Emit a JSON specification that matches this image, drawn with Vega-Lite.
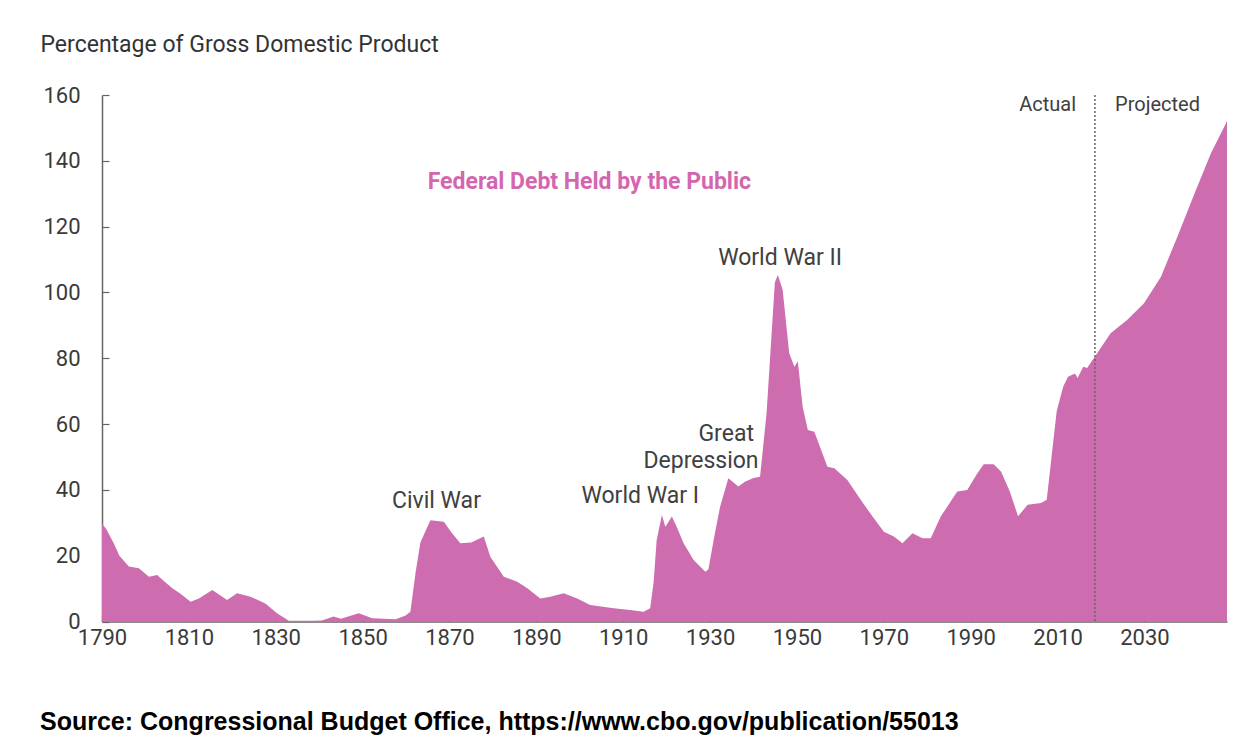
{
  "$schema": "https://vega.github.io/schema/vega-lite/v6.json",
  "autosize": {"type": "none"},
  "width": 1125,
  "height": 526.5,
  "padding": {"left": 102, "top": 95, "right": 17, "bottom": 132.5},
  "background": "white",
  "config": {"view": {"stroke": null}, "font": "Roboto"},
  "title": {
    "text": "Source: Congressional Budget Office, https://www.cbo.gov/publication/55013",
    "orient": "bottom",
    "anchor": "start",
    "frame": "group",
    "dx": -62,
    "offset": 61,
    "font": "Liberation Sans",
    "fontSize": 25,
    "fontWeight": "bold",
    "color": "#000000"
  },
  "datasets": {
    "debt": [
      {"year": 1790, "value": 29.8}, {"year": 1791, "value": 28}, {"year": 1792.7, "value": 23.8},
      {"year": 1794, "value": 20}, {"year": 1796.2, "value": 16.7}, {"year": 1798.5, "value": 16.2},
      {"year": 1800.8, "value": 13.6}, {"year": 1802.7, "value": 14.1}, {"year": 1804.5, "value": 12},
      {"year": 1806.2, "value": 10.1}, {"year": 1808, "value": 8.5}, {"year": 1810.4, "value": 6},
      {"year": 1812.3, "value": 7}, {"year": 1815.4, "value": 9.6}, {"year": 1818.8, "value": 6.5},
      {"year": 1821.1, "value": 8.6}, {"year": 1824.2, "value": 7.5}, {"year": 1827.6, "value": 5.5},
      {"year": 1830.3, "value": 2.5}, {"year": 1833, "value": 0.2}, {"year": 1838.3, "value": 0.2},
      {"year": 1840.6, "value": 0.3}, {"year": 1843.3, "value": 1.5}, {"year": 1845, "value": 0.8},
      {"year": 1849.1, "value": 2.5}, {"year": 1852.2, "value": 1}, {"year": 1857.6, "value": 0.7},
      {"year": 1859.9, "value": 1.8}, {"year": 1861, "value": 3}, {"year": 1862.2, "value": 15},
      {"year": 1863.3, "value": 24}, {"year": 1865.6, "value": 30.8}, {"year": 1868.7, "value": 30.3},
      {"year": 1870.5, "value": 27}, {"year": 1872.5, "value": 23.8}, {"year": 1875, "value": 24},
      {"year": 1877.9, "value": 25.8}, {"year": 1879.4, "value": 19.7}, {"year": 1882.5, "value": 13.6},
      {"year": 1885.6, "value": 12.1}, {"year": 1888, "value": 10}, {"year": 1890.9, "value": 7},
      {"year": 1893.2, "value": 7.5}, {"year": 1896.3, "value": 8.6}, {"year": 1899.4, "value": 7},
      {"year": 1902.4, "value": 5}, {"year": 1907.8, "value": 4}, {"year": 1911.6, "value": 3.5},
      {"year": 1914.7, "value": 3}, {"year": 1916.2, "value": 4}, {"year": 1917, "value": 12},
      {"year": 1917.7, "value": 24.8}, {"year": 1918.9, "value": 32.4}, {"year": 1919.7, "value": 28.8},
      {"year": 1921.2, "value": 31.9}, {"year": 1922.3, "value": 28.8}, {"year": 1923.9, "value": 23.8},
      {"year": 1926.2, "value": 18.7}, {"year": 1928.9, "value": 15.1}, {"year": 1929.6, "value": 15.8},
      {"year": 1931.1, "value": 26.8}, {"year": 1932.3, "value": 34.9}, {"year": 1934.2, "value": 43.5},
      {"year": 1936.5, "value": 41}, {"year": 1938, "value": 42.5}, {"year": 1940, "value": 43.6},
      {"year": 1941.5, "value": 44}, {"year": 1943, "value": 63.3}, {"year": 1944.9, "value": 103},
      {"year": 1945.6, "value": 105.3}, {"year": 1946.7, "value": 100.8}, {"year": 1948.2, "value": 81.6},
      {"year": 1949.4, "value": 77.4}, {"year": 1950.2, "value": 79}, {"year": 1951.3, "value": 65.3},
      {"year": 1952.5, "value": 58.2}, {"year": 1954, "value": 57.7}, {"year": 1957, "value": 47},
      {"year": 1958.6, "value": 46.6}, {"year": 1961.6, "value": 43}, {"year": 1964.7, "value": 36.9},
      {"year": 1967.4, "value": 31.9}, {"year": 1970, "value": 27.3}, {"year": 1972.3, "value": 25.8},
      {"year": 1974.3, "value": 23.8}, {"year": 1976.6, "value": 26.8}, {"year": 1978.9, "value": 25.3},
      {"year": 1980.8, "value": 25.3}, {"year": 1983.1, "value": 31.9}, {"year": 1986.9, "value": 39.5},
      {"year": 1989.2, "value": 40}, {"year": 1991.5, "value": 45}, {"year": 1993, "value": 47.8},
      {"year": 1995.3, "value": 47.8}, {"year": 1997, "value": 45.5}, {"year": 1999, "value": 39.5},
      {"year": 2000.9, "value": 32}, {"year": 2003.1, "value": 35.5}, {"year": 2006.2, "value": 36},
      {"year": 2007.5, "value": 37}, {"year": 2008.6, "value": 50}, {"year": 2009.8, "value": 64},
      {"year": 2011.3, "value": 71.4}, {"year": 2012.4, "value": 74.4}, {"year": 2014, "value": 75.4},
      {"year": 2014.6, "value": 74}, {"year": 2015.9, "value": 77.4}, {"year": 2016.8, "value": 77},
      {"year": 2018.6, "value": 80.5}, {"year": 2022.2, "value": 87.6}, {"year": 2026, "value": 91.6},
      {"year": 2029.9, "value": 96.7}, {"year": 2033.8, "value": 104.8}, {"year": 2037.6, "value": 117},
      {"year": 2041.5, "value": 130}, {"year": 2045.3, "value": 142.3}, {"year": 2049, "value": 152}
    ],
    "events": [
      {"year": 1867, "value": 36.6, "label": "Civil War"},
      {"year": 1913.9, "value": 38.1, "label": "World War I"},
      {"year": 1933.7, "value": 57, "label": "Great"},
      {"year": 1927.9, "value": 48.8, "label": "Depression"},
      {"year": 1946.1, "value": 110.5, "label": "World War II"}
    ],
    "periods": [
      {"year": 2007.7, "value": 157, "label": "Actual"},
      {"year": 2033, "value": 157, "label": "Projected"}
    ],
    "series": [
      {"year": 1902.2, "value": 133.6, "label": "Federal Debt Held by the Public"}
    ],
    "divider": [
      {"year": 2018.6}
    ]
  },
  "layer": [
    {
      "data": {"name": "debt"},
      "mark": {"type": "area", "color": "#CD6DAF", "interpolate": "linear"},
      "encoding": {
        "x": {
          "field": "year", "type": "quantitative",
          "scale": {"domain": [1790, 2049], "nice": false, "zero": false},
          "axis": {
            "values": [1790, 1810, 1830, 1850, 1870, 1890, 1910, 1930, 1950, 1970, 1990, 2010, 2030],
            "format": "d", "title": null, "grid": false, "labelFlush": false, "labelOverlap": false,
            "domainColor": "#666666", "domainWidth": 1.5,
            "tickColor": "#7a4a6a", "tickSize": -6, "tickWidth": 1.2,
            "labelFontSize": 22, "labelColor": "#3a3a3a", "labelPadding": 12, "labelFont": "Roboto"
          }
        },
        "y": {
          "field": "value", "type": "quantitative",
          "scale": {"domain": [0, 160], "nice": false},
          "axis": {
            "values": [0, 20, 40, 60, 80, 100, 120, 140, 160],
            "title": "Percentage of Gross Domestic Product",
            "titleAngle": 0, "titleAlign": "left", "titleBaseline": "middle",
            "titleX": -62, "titleY": -51, "titleFontSize": 23, "titleFontWeight": "normal",
            "titleColor": "#333333", "titleFont": "Roboto",
            "grid": false, "domainColor": "#666666", "domainWidth": 1.5,
            "tickColor": "#666666", "tickSize": -7, "tickWidth": 1.2, "labelFlush": false,
            "labelFontSize": 22, "labelColor": "#3a3a3a", "labelPadding": 29, "labelFont": "Roboto"
          }
        }
      }
    },
    {
      "data": {"name": "divider"},
      "mark": {"type": "rule", "color": "#666666", "strokeDash": [2, 2], "strokeWidth": 1.5},
      "encoding": {
        "x": {"field": "year", "type": "quantitative"},
        "y": {"datum": 160},
        "y2": {"datum": 0}
      }
    },
    {
      "data": {"name": "events"},
      "mark": {"type": "text", "font": "Roboto", "fontSize": 23, "color": "#404040", "align": "center", "baseline": "middle"},
      "encoding": {
        "x": {"field": "year", "type": "quantitative"},
        "y": {"field": "value", "type": "quantitative"},
        "text": {"field": "label"}
      }
    },
    {
      "data": {"name": "periods"},
      "mark": {"type": "text", "font": "Roboto", "fontSize": 20, "color": "#404040", "align": "center", "baseline": "middle"},
      "encoding": {
        "x": {"field": "year", "type": "quantitative"},
        "y": {"field": "value", "type": "quantitative"},
        "text": {"field": "label"}
      }
    },
    {
      "data": {"name": "series"},
      "mark": {"type": "text", "font": "Roboto", "fontSize": 23, "fontWeight": "bold", "color": "#D466B0", "align": "center", "baseline": "middle"},
      "encoding": {
        "x": {"field": "year", "type": "quantitative"},
        "y": {"field": "value", "type": "quantitative"},
        "text": {"field": "label"}
      }
    }
  ]
}
